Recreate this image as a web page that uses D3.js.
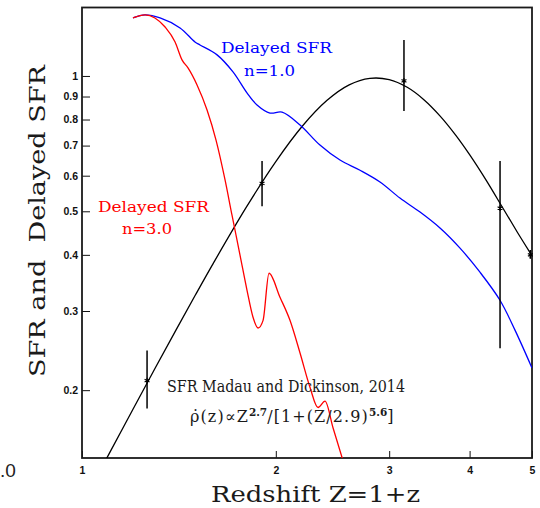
<!DOCTYPE html>
<html>
<head>
<meta charset="utf-8">
<script src="https://cdn.jsdelivr.net/npm/d3@7"></script>
<style>
  html, body { margin: 0; padding: 0; background: #fff; }
  svg { display: block; }
</style>
</head>
<body>
<svg id="chart" width="540" height="508"></svg>
<script>
// Madau & Dickinson (2014) cosmic SFR, normalised, vs Z = 1+z
const mdZ = [1.05, 1.1, 1.2, 1.3, 1.4, 1.5, 1.6, 1.8, 2.0, 2.2, 2.4, 2.6, 2.8, 3.0, 3.2, 3.4, 3.6, 3.8, 4.0, 4.25, 4.5, 4.75, 5.0];
const mdV = [0.127, 0.1438, 0.1814, 0.2243, 0.2724, 0.3256, 0.3835, 0.5106, 0.645, 0.7738, 0.8816, 0.9553, 0.9878, 0.9816, 0.9436, 0.8846, 0.8143, 0.7406, 0.6684, 0.5844, 0.5098, 0.448, 0.398];

// Delayed SFR, n = 1.0
const d1Z = [1.200, 1.253, 1.322, 1.420, 1.498, 1.525, 1.621, 1.716, 1.804, 1.870, 1.959, 2.045, 2.181, 2.342, 2.516, 2.703, 2.903, 3.118, 3.350, 3.598, 3.865, 4.151, 4.459, 4.705, 5.0];
const d1V = [1.346, 1.367, 1.346, 1.279, 1.190, 1.172, 1.114, 1.021, 0.917, 0.862, 0.827, 0.831, 0.778, 0.702, 0.650, 0.617, 0.581, 0.535, 0.498, 0.459, 0.414, 0.366, 0.317, 0.272, 0.224];

// Delayed SFR, n = 3.0
const d3Z = [1.200, 1.253, 1.298, 1.346, 1.395, 1.430, 1.461, 1.509, 1.564, 1.615, 1.668, 1.710, 1.760, 1.804, 1.843, 1.877, 1.911, 1.952, 2.030, 2.104, 2.181, 2.260, 2.326, 2.385, 2.454, 2.543];
const d3V = [1.346, 1.367, 1.346, 1.285, 1.190, 1.086, 1.042, 0.955, 0.840, 0.720, 0.587, 0.490, 0.399, 0.334, 0.291, 0.275, 0.286, 0.364, 0.322, 0.286, 0.242, 0.203, 0.183, 0.189, 0.165, 0.1395];

// Observed points with vertical error bars
const obsZ  = [1.262, 1.904, 3.163, 4.46, 4.97];
const obsV  = [0.210, 0.577, 0.975, 0.508, 0.400];
const obsLo = [0.182, 0.513, 0.836, 0.248, 0.392];
const obsHi = [0.245, 0.647, 1.203, 0.647, 0.410];

// Axis ticks
const xTicks = [1, 2, 3, 4, 5];
const yTicks = [0.2, 0.3, 0.4, 0.5, 0.6, 0.7, 0.8, 0.9, 1];
const yTickLabels = ["0.2", "0.3", "0.4", "0.5", "0.6", "0.7", "0.8", "0.9", "1"];

const svg = d3.select("#chart");
const L = 82, R = 532, T = 7.5, B = 458;

const x = d3.scaleLog().domain([1, 5]).range([L, R]);
const y = d3.scaleLog().domain([0.1413, 1.42]).range([B, T]);

svg.append("defs").append("clipPath").attr("id", "plotClip")
  .append("rect").attr("x", L).attr("y", T).attr("width", R - L).attr("height", B - T);

const sans = "Liberation Sans, Arial, sans-serif";

// Axes (ticks pointing inward)
const yAxis = d3.axisLeft(y).tickValues(yTicks).tickSize(-8).tickPadding(4)
  .tickFormat((d, i) => yTickLabels[i]);
const gy = svg.append("g").attr("transform", `translate(${L},0)`).call(yAxis);
gy.select(".domain").remove();
gy.selectAll("text").attr("font-family", sans)
  .attr("font-weight", "bold").attr("font-size", 10.5).attr("fill", "#111");
gy.selectAll("line").attr("stroke", "#111");

const xAxis = d3.axisBottom(x).tickValues(xTicks).tickSize(-7).tickPadding(9)
  .tickFormat(d3.format("d"));
const gx = svg.append("g").attr("transform", `translate(0,${B})`).call(xAxis);
gx.select(".domain").remove();
gx.selectAll("text").attr("font-family", sans)
  .attr("font-weight", "bold").attr("font-size", 10.5).attr("fill", "#111");
gx.selectAll("line").attr("stroke", "#111");

// Frame
svg.append("rect").attr("x", L).attr("y", T).attr("width", R - L).attr("height", B - T)
  .attr("fill", "none").attr("stroke", "#1a1a1a").attr("stroke-width", 1.8);

const plot = svg.append("g").attr("clip-path", "url(#plotClip)");

function drawCurve(zs, vs, color, curve) {
  const line = d3.line().x(d => x(d[0])).y(d => y(d[1])).curve(curve);
  plot.append("path").datum(zs.map((z, i) => [z, vs[i]]))
    .attr("d", line).attr("fill", "none").attr("stroke", color).attr("stroke-width", 1.3);
}
drawCurve(mdZ, mdV, "#000", d3.curveCatmullRom);
drawCurve(d1Z, d1V, "#0000ff", d3.curveCatmullRom);
drawCurve(d3Z, d3V, "#ff0000", d3.curveMonotoneX);

// Data points
const obs = obsZ.map((z, i) => ({ z, v: obsV[i], lo: obsLo[i], hi: obsHi[i] }));
const pts = svg.append("g");
pts.selectAll("line.err").data(obs).join("line").attr("class", "err")
  .attr("x1", d => x(d.z)).attr("x2", d => x(d.z))
  .attr("y1", d => y(d.lo)).attr("y2", d => y(d.hi))
  .attr("stroke", "#000").attr("stroke-width", 1.5);
pts.selectAll("path.mk").data(obs).join("path").attr("class", "mk")
  .attr("transform", d => `translate(${x(d.z)},${y(d.v)})`)
  .attr("d", d3.symbol(d3.symbolAsterisk, 22))
  .attr("fill", "none").attr("stroke", "#000").attr("stroke-width", 1.1);

// Labels
const serif = "DejaVu Serif, Liberation Serif, serif";
function label(txt, xx, yy, size, color, len) {
  return svg.append("text").attr("x", xx).attr("y", yy).attr("font-family", serif)
    .attr("font-size", size).attr("fill", color)
    .attr("textLength", len).attr("lengthAdjust", "spacingAndGlyphs").text(txt);
}
label("Delayed SFR", 221, 53, 15, "#0000ff", 111);
label("n=1.0", 244, 76, 15, "#0000ff", 51);
label("Delayed SFR", 98, 212, 15, "#ff0000", 111);
label("n=3.0", 122, 234, 15, "#ff0000", 50);
label("SFR Madau and Dickinson, 2014", 167, 392, 16, "#1a1a1a", 238);

// Functional form of the Madau & Dickinson fit
const f = svg.append("text").attr("x", 190).attr("y", 422).attr("font-family", serif)
  .attr("font-size", 16).attr("letter-spacing", 1.1).attr("fill", "#1a1a1a");
f.append("tspan").text("\u03C1\u0307(z)\u221DZ");
f.append("tspan").attr("dy", -6).attr("font-size", 10.5).attr("font-weight", "bold")
  .attr("letter-spacing", 0).text("2.7");
f.append("tspan").attr("dy", 6).text("/[1+(Z/2.9)");
f.append("tspan").attr("dy", -6).attr("font-size", 10.5).attr("font-weight", "bold")
  .attr("letter-spacing", 0).text("5.6");
f.append("tspan").attr("dy", 6).text("]");

// Axis titles
svg.append("text").attr("x", 211).attr("y", 502).attr("font-family", serif)
  .attr("font-size", 23).attr("fill", "#1a1a1a")
  .attr("textLength", 209).attr("lengthAdjust", "spacingAndGlyphs").text("Redshift Z=1+z");
svg.append("text").attr("transform", "translate(45,377) rotate(-90)")
  .attr("font-family", serif).attr("font-size", 23).attr("fill", "#1a1a1a")
  .attr("textLength", 312).attr("lengthAdjust", "spacingAndGlyphs")
  .attr("xml:space", "preserve").text("SFR and  Delayed SFR");

// Edge of the neighbouring panel's axis label
svg.append("text").attr("x", 0).attr("y", 477)
  .attr("font-family", sans).attr("font-size", 19)
  .attr("fill", "#222").text(".0");
</script>
</body>
</html>
